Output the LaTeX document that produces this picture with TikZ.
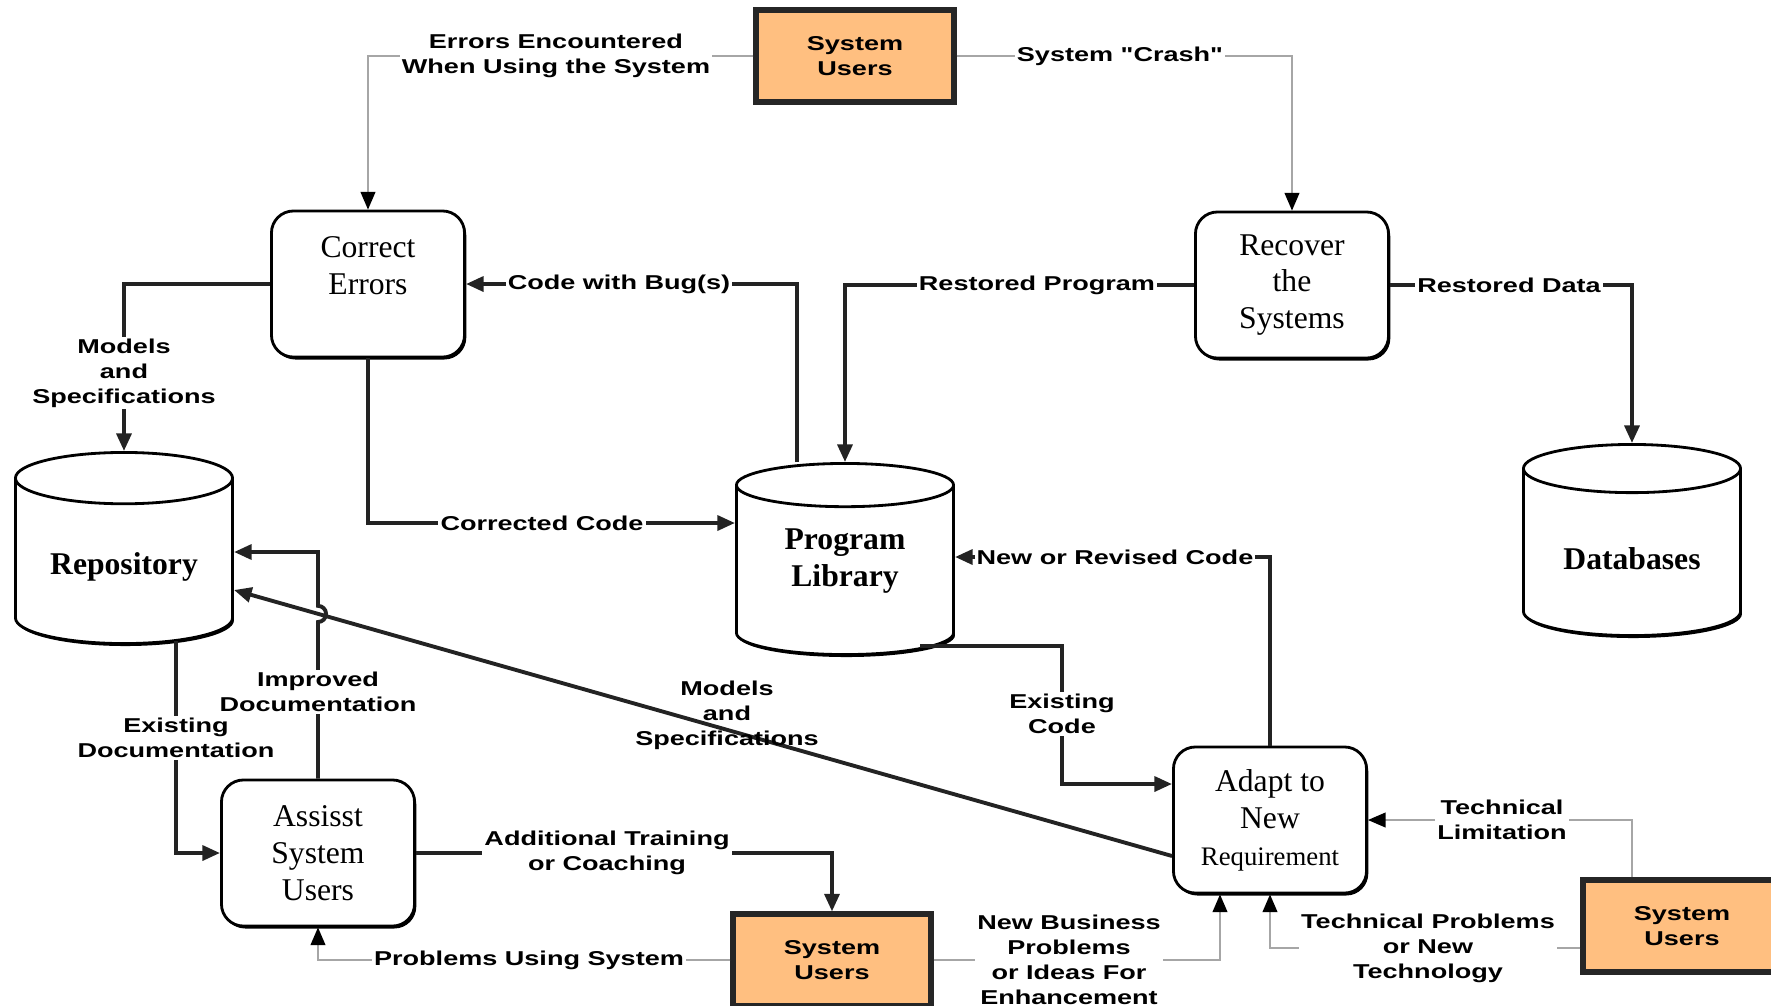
\documentclass[tikz,border=0pt]{standalone}
\usepackage{fontspec}
\setmainfont{Liberation Serif}
\newfontfamily\labelfont[FakeStretch=1.35]{Liberation Sans}
\usetikzlibrary{arrows.meta,shapes.geometric,shadows}
\definecolor{usersorange}{RGB}{255,191,128}
\definecolor{linegray}{RGB}{35,35,35}

\begin{document}
\begin{tikzpicture}[x=0.01cm, y=-0.01cm, >={Triangle[length=5pt,width=4.2pt]},
    proc/.style={draw, line width=0.8pt, rounded corners=0.22cm, fill=white,
      minimum width=1.93cm, minimum height=1.46cm, align=center, inner sep=1pt,
      font=\fontsize{9}{10.5}\selectfont,
      drop shadow={shadow xshift=0.5pt, shadow yshift=-0.7pt, opacity=1, fill=black}},
    users/.style={draw=black!85, line width=1.7pt, fill=usersorange,
      minimum width=1.97cm, minimum height=0.91cm, align=center,
      font=\labelfont\bfseries\fontsize{5.7}{7.1}\selectfont},
    store/.style={cylinder, shape border rotate=90, aspect=0.3, draw, line width=0.8pt,
      fill=white, minimum width=2.17cm, minimum height=1.91cm, align=center,
      anchor=shape center, font=\bfseries\fontsize{9}{10.5}\selectfont,
      drop shadow={shadow xshift=0.4pt, shadow yshift=-0.7pt, opacity=1, fill=black}},
    flow/.style={->, draw=linegray, line width=1.1pt},
    feed/.style={-{Triangle[length=5pt,width=4.2pt,color=black]}, draw=black!35, line width=0.4pt},
    lbl/.style={fill=white, inner sep=0.6pt, align=center,
      font=\labelfont\bfseries\fontsize{5.7}{7.1}\selectfont}]
  \useasboundingbox (0,0) rectangle (1771,1005);

  % Brukere
  \node[users] (usrT) at (855,56) {System\\Users};
  \node[users] (usrB) at (832,960) {System\\Users};
  \node[users] (usrR) at (1682,926) {System\\Users};

  % Prosesser
  \node[proc] (err) at (368,284) {Correct\\Errors\\\mbox{}};
  \node[proc] (rec) at (1292,285) {Recover\\the\\Systems};
  \node[proc] (assist) at (318,853) {Assisst\\System\\Users};
  \node[proc] (adapt) at (1270,820) {Adapt to\\New\\{\fontsize{7.6}{9}\selectfont Requirement}};

  % Lagre
  \node[store] (repo) at (124,548) {Repository};
  \node[store] (lib) at (845,559)
    {\raisebox{0.15cm}[\height][\depth]{\begin{tabular}{@{}c@{}}Program\\Library\end{tabular}}};
  \node[store] (db) at (1632,540) {Databases};

  % Knekkpunkter
  \coordinate (bugs) at (797,0);
  \coordinate (cc) at (0,523);
  \coordinate (nr) at (0,557);
  \coordinate (exs) at (920,646);
  \coordinate (exc) at (1062,784);
  \coordinate (ms) at (0,856);
  \coordinate (mr) at (0,590);
  \coordinate (id) at (0,552);
  \coordinate (jmp) at (0,622);
  \coordinate (ed) at (176,641);
  \coordinate (nb) at (1220,0);
  \coordinate (tl) at (1632,0);
  \coordinate (tp) at (0,948);

  % Tynne linjer fra brukerne
  \draw[feed] (usrT.west) -| (err.north);
  \draw[feed] (usrT.east) -| (rec.north);
  \draw[feed] (usrB.west) -| (assist.south);
  \draw[feed] (usrB.east) -| (nb |- adapt.south);
  \draw[feed] (tl |- usrR.north) |- (adapt.east);
  \draw[feed] (usrR.west |- tp) -| (adapt.south);

  % Hovedflyt
  \draw[flow] (err.west) -| (repo.north);
  \draw[flow] (bugs |- lib.north) |- (err.east);
  \draw[flow] (err.south) |- (cc -| lib.west);
  \draw[flow] (rec.west) -| (lib.north);
  \draw[flow] (rec.east) -| (db.north);
  \draw[flow] (adapt.north) |- (nr -| lib.east);
  \draw[flow] (exs) -| (exc) -- (exc -| adapt.west);
  \draw[flow] (adapt.west |- ms) -- (repo.east |- mr);
  \draw[flow] (assist.north) -- (assist.north |- jmp)
    arc[start angle=-90, end angle=90, radius=2.3pt] -- (assist.north |- id) -- (id -| repo.east);
  \draw[flow] (ed) |- (assist.west);
  \draw[flow] (assist.east) -| (usrB.north);

  % Etiketter
  \node[lbl] (l1) at (556,56) {Errors Encountered\\When Using the System};
  \node[lbl] (l2) at (1120,56) {System "Crash"};
  \node[lbl] (l3) at (124,373) {Models\\and\\Specifications};
  \node[lbl] (l4) at (619,284) {Code with Bug(s)};
  \node[lbl] (l5) at (542,523) {Corrected Code};
  \node[lbl] (l6) at (1037,285) {Restored Program};
  \node[lbl] (l7) at (1509,285) {Restored Data};
  \node[lbl] (l8) at (1115,557) {New or Revised Code};
  \node[lbl] (l9) at (1062,714) {Existing\\Code};
  \node[lbl, fill=none] (l10) at (727,715) {Models\\and\\Specifications};
  \node[lbl] (l11) at (318,692) {Improved\\Documentation};
  \node[lbl] (l12) at (176,738) {Existing\\Documentation};
  \node[lbl] (l13) at (607,853) {Additional Training\\or Coaching};
  \node[lbl] (l14) at (529,960) {Problems Using System};
  \node[lbl] (l15) at (1069,960) {New Business\\Problems\\or Ideas For\\Enhancement};
  \node[lbl] (l16) at (1502,820) {Technical\\Limitation};
  \node[lbl] (l17) at (1428,948) {Technical Problems\\or New\\Technology};
\end{tikzpicture}
\end{document}
